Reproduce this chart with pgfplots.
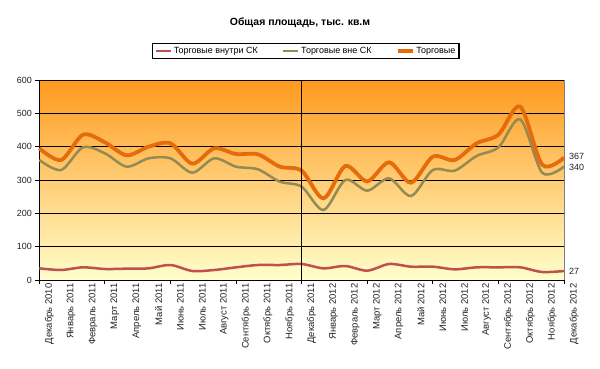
\documentclass[border=0pt]{standalone}
\usepackage{fontspec}
\setmainfont{Liberation Sans}
\usepackage{pgfplots}
\pgfplotsset{compat=1.18}
\definecolor{cred}{HTML}{C0504D}
\definecolor{colive}{HTML}{948A54}
\definecolor{corange}{HTML}{E46C0A}
\definecolor{bgtop}{HTML}{FF9A1E}
\definecolor{bgbot}{HTML}{FFFFCC}
\definecolor{txt}{HTML}{222222}
\begin{document}
\begin{tikzpicture}[x=1bp,y=1bp]
\useasboundingbox (0,0) rectangle (600,368);
\node[font=\bfseries\fontsize{10.5}{12}\selectfont] at (300,345) {Общая площадь, тыс. кв.м};
\begin{axis}[
  at={(39.3bp,88bp)}, anchor=south west,
  scale only axis, width=524.7bp, height=200bp,
  xmin=0, xmax=24, ymin=0, ymax=600,
  clip=false,
  axis x line*=bottom, axis y line*=left,
  axis line style={black, line width=0.8bp},
  axis background/.style={shade, top color=bgtop, bottom color=bgbot, draw=gray, line width=0.8bp},
  ytick={0,100,...,600},
  ymajorgrids, grid style={black, line width=0.8bp},
  tick align=outside, major tick length=4bp,
  tick style={black, line width=0.8bp},
  /pgf/number format/assume math mode=true,
  yticklabel style={font=\fontsize{9}{10}\selectfont, text=txt},
  xtick={0,3,...,24}, xticklabels={},
  extra x ticks={0,1,...,24},
  extra x tick labels={Декабрь 2010,Январь 2011,Февраль 2011,Март 2011,Апрель 2011,Май 2011,Июнь 2011,Июль 2011,Август 2011,Сентябрь 2011,Октябрь 2011,Ноябрь 2011,Декабрь 2011,Январь 2012,Февраль 2012,Март 2012,Апрель 2012,Май 2012,Июнь 2012,Июль 2012,Август 2012,Сентябрь 2012,Октябрь 2012,Ноябрь 2012,Декабрь 2012},
  extra x tick style={major tick length=0pt, tick label style={rotate=90, anchor=east, font=\fontsize{9.5}{10}\selectfont, text=txt, yshift=-10bp}},
  legend style={at={(0.508,1.145)}, anchor=center, legend columns=3, draw=black, line width=1.2bp, fill=white,
    font=\fontsize{9}{10}\selectfont, inner sep=1.5bp,
    /tikz/every even column/.append style={column sep=22bp}},
  legend cell align=left,
  legend image code/.code={\draw[#1] (0bp,0bp) -- (15bp,0bp);},
]
\addplot[cred, line width=2.5bp, smooth, tension=0.5] coordinates {
(0,35)(1,30)(2,38)(3,33)(4,34)(5,35)(6,45)(7,27)(8,30)(9,38)(10,45)(11,45)(12,48)
(13,35)(14,42)(15,28)(16,48)(17,40)(18,40)(19,32)(20,38)(21,38)(22,38)(23,24)(24,27)};
\addlegendentry{Торговые внутри СК}
\addplot[colive, line width=2.5bp, smooth, tension=0.5] coordinates {
(0,360)(1,330)(2,398)(3,380)(4,340)(5,365)(6,365)(7,322)(8,365)(9,340)(10,332)(11,295)(12,280)
(13,210)(14,300)(15,268)(16,305)(17,252)(18,330)(19,328)(20,372)(21,398)(22,482)(23,322)(24,340)};
\addlegendentry{Торговые вне СК}
\addplot[corange, line width=3.8bp, smooth, tension=0.5] coordinates {
(0,395)(1,360)(2,436)(3,413)(4,374)(5,400)(6,410)(7,349)(8,395)(9,378)(10,377)(11,340)(12,328)
(13,245)(14,342)(15,296)(16,353)(17,292)(18,370)(19,360)(20,410)(21,436)(22,520)(23,346)(24,367)};
\addlegendentry{Торговые}
\draw[black, line width=0.8bp] (axis cs:12,0) -- (axis cs:12,600);
\node[anchor=west, font=\fontsize{9}{10}\selectfont, text=txt, xshift=4bp, inner sep=1bp] at (axis cs:24,370) {367};
\node[anchor=west, font=\fontsize{9}{10}\selectfont, text=txt, xshift=4bp, inner sep=1bp] at (axis cs:24,338) {340};
\node[anchor=west, font=\fontsize{9}{10}\selectfont, text=txt, xshift=4bp, inner sep=1bp] at (axis cs:24,27) {27};
\end{axis}
\end{tikzpicture}
\end{document}
